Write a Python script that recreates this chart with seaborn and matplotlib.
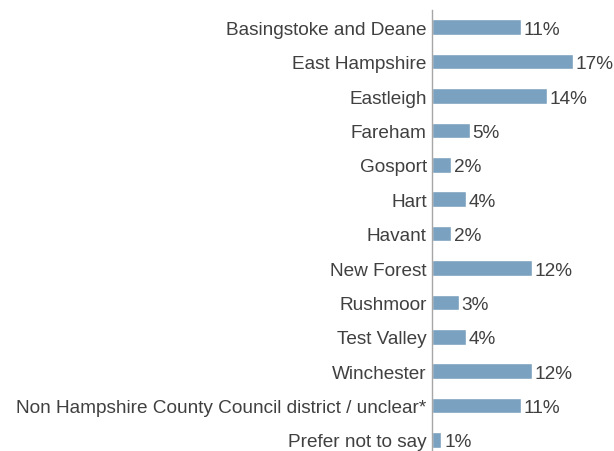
import matplotlib
matplotlib.use("Agg")
import matplotlib.pyplot as plt
import seaborn as sns
import pandas as pd

categories = [
    "Basingstoke and Deane", "East Hampshire", "Eastleigh", "Fareham", "Gosport",
    "Hart", "Havant", "New Forest", "Rushmoor", "Test Valley", "Winchester",
    "Non Hampshire County Council district / unclear*", "Prefer not to say",
]
values = [10.7, 16.9, 13.8, 4.5, 2.3, 4.1, 2.3, 12.0, 3.2, 4.1, 12.0, 10.7, 1.1]
value_labels = ["11%", "17%", "14%", "5%", "2%", "4%", "2%", "12%", "3%", "4%", "12%", "11%", "1%"]

sns.set_style("white")
plt.rcParams["font.family"] = ["Liberation Sans", "DejaVu Sans"]

df = pd.DataFrame({"district": categories, "pct": values})

W, H = 614, 452
fig = plt.figure(figsize=(W / 100, H / 100), dpi=100)
left_px, right_px, top_px = 432.3, 598.3, 11.0
row_px = 34.4
height_px = row_px * len(categories)
ax = fig.add_axes([left_px / W, (H - top_px - height_px) / H,
                   (right_px - left_px) / W, height_px / H])

bar_color = "#7AA1BF"
text_color = "#404040"
sns.barplot(data=df, x="pct", y="district", orient="h", color=bar_color,
            saturation=1, width=0.45, ax=ax)

ax.set_xlim(0, 20)
ax.set_ylim(len(categories) - 0.5, -0.5)
labels = ax.bar_label(ax.containers[0], labels=value_labels, padding=2,
                      fontsize=13.7, color=text_color)
for t in labels:
    t.set_va("center_baseline")

ax.set_xlabel("")
ax.set_ylabel("")
ax.set_xticks([])
ax.tick_params(axis="y", length=0, pad=4, labelsize=13.7, labelcolor=text_color)
for side in ["top", "right", "bottom"]:
    ax.spines[side].set_visible(False)
ax.spines["left"].set_color("#A6A6A6")
ax.spines["left"].set_linewidth(1.0)

fig.savefig("out.png", dpi=100)
